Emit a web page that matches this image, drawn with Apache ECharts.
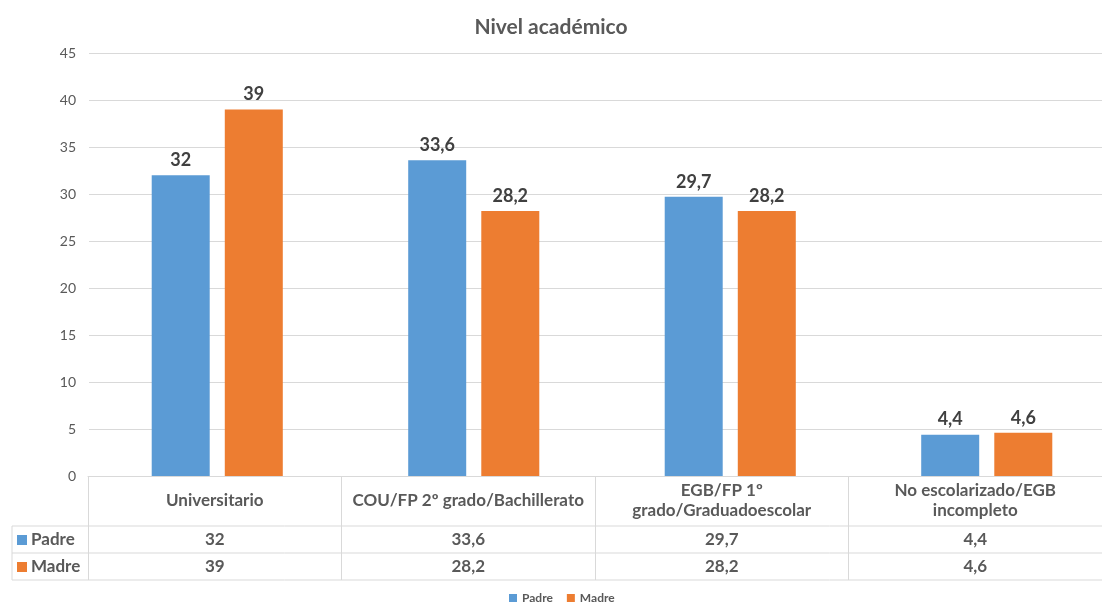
<!DOCTYPE html>
<html>
<head>
<meta charset="utf-8">
<script src="https://cdn.jsdelivr.net/npm/echarts@6/dist/echarts.min.js"></script>
<style>
  html, body { margin: 0; padding: 0; background: #fff; }
  #chart { width: 1102px; height: 604px; }
</style>
</head>
<body>
<div id="chart"></div>
<script>
  // data
  const categories = [
    'Universitario',
    'COU/FP 2º grado/Bachillerato',
    'EGB/FP 1º\ngrado/Graduadoescolar',
    'No escolarizado/EGB\nincompleto'
  ];
  const padre = [32, 33.6, 29.7, 4.4];
  const madre = [39, 28.2, 28.2, 4.6];
  const yTicks = [0, 5, 10, 15, 20, 25, 30, 35, 40, 45];

  const fmt = v => String(v).replace('.', ',');
  const FONT = 'Lato';
  const TXT = '#595959';
  const LINE = '#d9d9d9';

  // table geometry (px)
  const L = 88, T0 = 476, T1 = 526, T2 = 553, T3 = 580, RH = 12;

  const chart = echarts.init(document.getElementById('chart'));
  window.addEventListener('resize', function () {
    chart.resize();
  });

  const rowLabelAxis = (vals, margin) => ({
    type: 'category',
    gridIndex: 1,
    position: 'bottom',
    data: vals.map(fmt),
    axisLine: { show: false },
    axisTick: { show: false },
    axisLabel: {
      margin: margin,
      verticalAlign: 'middle',
      fontFamily: FONT,
      fontWeight: 'bold',
      fontSize: 17,
      color: TXT
    }
  });

  const barLabel = {
    show: true, position: 'top', distance: 6,
    formatter: p => fmt(p.value),
    fontFamily: FONT, fontWeight: 'bold', fontSize: 18, color: '#404040'
  };

  const option = {
    animation: false,
    title: {
      text: 'Nivel académico',
      left: 'center',
      top: 12,
      textStyle: { fontFamily: FONT, fontWeight: 'bold', fontSize: 21, color: TXT }
    },
    legend: {
      bottom: -5,
      left: 504,
      itemWidth: 8,
      itemHeight: 8,
      itemGap: 14,
      icon: 'rect',
      textStyle: { fontFamily: FONT, fontWeight: 'bold', fontSize: 12, color: TXT },
      data: ['Padre', 'Madre']
    },
    grid: [
      // plot area (bars sit on a slightly wider band than the table)
      { left: 89, width: 1026, top: 53, bottom: 604 - T0, outerBoundsMode: 'none' },
      // data table
      { left: L, right: 0, top: T0 - 20, height: 20, outerBoundsMode: 'none' }
    ],
    xAxis: [
      {
        type: 'category',
        gridIndex: 0,
        data: categories,
        axisLine: { show: false },
        axisTick: { show: false },
        axisLabel: { show: false }
      },
      {
        type: 'category',
        gridIndex: 1,
        data: categories,
        axisLine: { lineStyle: { color: LINE } },
        axisTick: { show: true, length: T3 - T0, lineStyle: { color: LINE } },
        axisLabel: {
          margin: 25,
          verticalAlign: 'middle',
          interval: 0,
          lineHeight: 20,
          fontFamily: FONT,
          fontWeight: 'bold',
          fontSize: 17,
          color: TXT
        }
      },
      rowLabelAxis(padre, 64),
      rowLabelAxis(madre, 91)
    ],
    yAxis: [
      {
        type: 'value',
        gridIndex: 0,
        min: yTicks[0],
        max: yTicks[yTicks.length - 1],
        interval: 5,
        axisLine: { show: false },
        axisTick: { show: false },
        splitLine: { lineStyle: { color: LINE } },
        axisLabel: { margin: 13, fontFamily: FONT, fontSize: 14, color: TXT }
      },
      { type: 'value', gridIndex: 1, show: false, splitLine: { show: false } }
    ],
    series: [
      {
        name: 'Padre',
        type: 'bar',
        data: padre,
        barWidth: 58,
        barGap: '26%',
        itemStyle: { color: '#5b9bd5' },
        label: barLabel
      },
      {
        name: 'Madre',
        type: 'bar',
        data: madre,
        barWidth: 58,
        itemStyle: { color: '#ed7d31' },
        label: barLabel
      }
    ],
    graphic: [
      { type: 'line', shape: { x1: RH, y1: T1, x2: 1102, y2: T1 }, style: { stroke: LINE, lineWidth: 1 } },
      { type: 'line', shape: { x1: RH, y1: T2, x2: 1102, y2: T2 }, style: { stroke: LINE, lineWidth: 1 } },
      { type: 'line', shape: { x1: RH, y1: T3, x2: 1102, y2: T3 }, style: { stroke: LINE, lineWidth: 1 } },
      { type: 'line', shape: { x1: RH, y1: T1, x2: RH, y2: T3 }, style: { stroke: LINE, lineWidth: 1 } },
      { type: 'rect', shape: { x: 17, y: 535, width: 10, height: 10 }, style: { fill: '#5b9bd5' } },
      { type: 'rect', shape: { x: 17, y: 562, width: 10, height: 10 }, style: { fill: '#ed7d31' } },
      { type: 'text', x: 31, y: 540, style: { text: 'Padre', fontFamily: FONT, fontWeight: 'bold', fontSize: 17, fill: TXT, verticalAlign: 'middle' } },
      { type: 'text', x: 31, y: 567, style: { text: 'Madre', fontFamily: FONT, fontWeight: 'bold', fontSize: 17, fill: TXT, verticalAlign: 'middle' } }
    ]
  };

  chart.setOption(option);
</script>
</body>
</html>
